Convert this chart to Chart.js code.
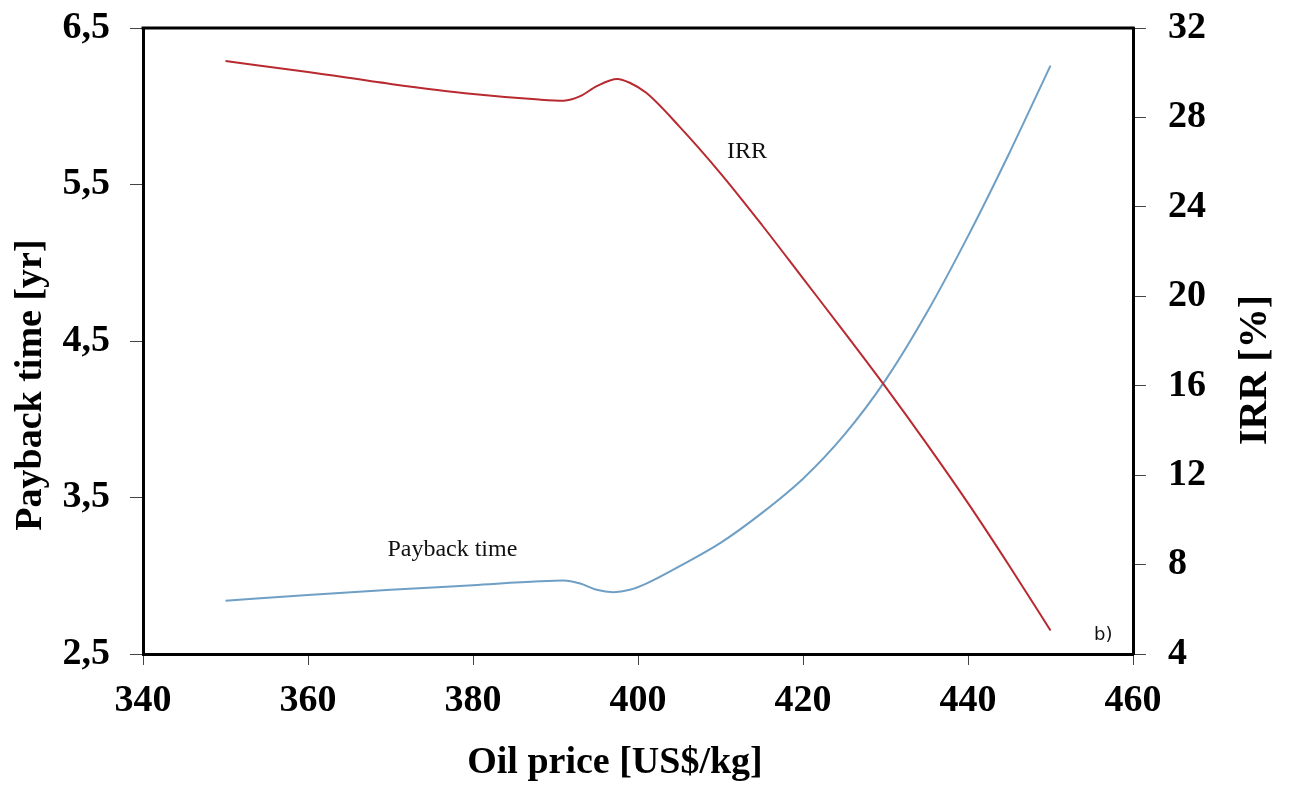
<!DOCTYPE html>
<html>
<head>
<meta charset="utf-8">
<script src="https://cdn.jsdelivr.net/npm/chart.js@4.4.1/dist/chart.umd.min.js"></script>
<style>
  html, body { margin: 0; padding: 0; background: #ffffff; }
  canvas { display: block; }
</style>
</head>
<body>
<canvas id="c" width="1290" height="791"></canvas>
<script>
// ---- Data ----
const paybackPrice = [350, 360, 370, 380, 388, 391, 393, 395, 397, 399, 401, 405, 410, 415, 420, 425, 430, 435, 440, 445, 450];
const paybackYears = [2.84, 2.877, 2.91, 2.94, 2.965, 2.97, 2.95, 2.91, 2.895, 2.91, 2.95, 3.06, 3.21, 3.40, 3.62, 3.90, 4.25, 4.68, 5.17, 5.70, 6.26];

const irrPrice = [350, 360, 370, 380, 388, 391, 393, 395, 397.5, 399, 401, 405, 410, 415, 420, 425, 430, 435, 440, 445, 450];
const irrPercent = [30.52, 30.03, 29.5, 29.05, 28.8, 28.75, 28.95, 29.4, 29.72, 29.55, 29.1, 27.6, 25.5, 23.2, 20.8, 18.4, 15.95, 13.4, 10.75, 7.95, 5.05];

const xTicks = [340, 360, 380, 400, 420, 440, 460];
const leftTicks = [2.5, 3.5, 4.5, 5.5, 6.5];
const rightTicks = [4, 8, 12, 16, 20, 24, 28, 32];

const xTitle = 'Oil price [US$/kg]';
const leftTitle = 'Payback time [yr]';
const rightTitle = 'IRR [%]';
const irrLabel = 'IRR';
const paybackLabel = 'Payback time';
const panelLabel = 'b)';

// ---- Build ----
const toPts = (xs, ys) => xs.map((x, i) => ({ x: x, y: ys[i] }));
const SERIF = "'Liberation Serif', 'Times New Roman', serif";
const tickFont = { family: SERIF, size: 38, weight: 'bold' };

const bgPlugin = {
  id: 'bg',
  beforeDraw(chart) {
    const ctx = chart.ctx;
    ctx.save();
    ctx.fillStyle = '#ffffff';
    ctx.fillRect(0, 0, chart.width, chart.height);
    ctx.restore();
  }
};

const decorPlugin = {
  id: 'decor',
  afterDraw(chart) {
    const ctx = chart.ctx;
    const a = chart.chartArea;
    const sx = chart.scales.x, sy = chart.scales.y, sy1 = chart.scales.y1;
    ctx.save();
    // top frame line
    ctx.strokeStyle = '#000';
    ctx.lineWidth = 3;
    ctx.beginPath();
    ctx.moveTo(a.left - 1.5, a.top);
    ctx.lineTo(a.right + 1.5, a.top);
    ctx.stroke();

    // axis titles
    ctx.fillStyle = '#000';
    ctx.font = 'bold 38px ' + SERIF;
    ctx.textAlign = 'center';
    ctx.textBaseline = 'middle';
    ctx.fillText(xTitle, (a.left + a.right) / 2 - 23, 763);

    ctx.save();
    ctx.translate(31, 385);
    ctx.rotate(-Math.PI / 2);
    ctx.fillText(leftTitle, 0, 0);
    ctx.restore();

    ctx.font = 'bold 40px ' + SERIF;
    ctx.save();
    ctx.translate(1256, 370);
    ctx.rotate(-Math.PI / 2);
    ctx.fillText(rightTitle, 0, 0);
    ctx.restore();

    // in-plot labels (anchored in data coordinates)
    ctx.font = '24px ' + SERIF;
    ctx.fillStyle = '#111';
    ctx.fillText(irrLabel, sx.getPixelForValue(413.2), sy1.getPixelForValue(26.45));
    ctx.fillText(paybackLabel, sx.getPixelForValue(377.5), sy.getPixelForValue(3.165));
    ctx.font = "18px 'DejaVu Sans', sans-serif";
    ctx.fillText(panelLabel, sx.getPixelForValue(456.4), sy.getPixelForValue(2.62));
    ctx.restore();
  }
};

const noOverflowY = (w) => (scale) => { scale.width = w; scale.paddingTop = 0; scale.paddingBottom = 0; };

new Chart(document.getElementById('c'), {
  type: 'line',
  data: {
    datasets: [
      {
        label: 'IRR',
        data: toPts(irrPrice, irrPercent),
        yAxisID: 'y1',
        borderColor: '#b82a30',
        borderWidth: 2,
        pointRadius: 0,
        fill: false,
        cubicInterpolationMode: 'monotone'
      },
      {
        label: 'Payback time',
        data: toPts(paybackPrice, paybackYears),
        yAxisID: 'y',
        borderColor: '#6f9fc4',
        borderWidth: 2,
        pointRadius: 0,
        fill: false,
        cubicInterpolationMode: 'monotone'
      }
    ]
  },
  options: {
    responsive: false,
    animation: false,
    devicePixelRatio: 1,
    layout: { padding: { top: 28, right: 0, bottom: 0, left: 0 } },
    plugins: { legend: { display: false }, tooltip: { enabled: false } },
    scales: {
      x: {
        type: 'linear',
        position: 'bottom',
        min: xTicks[0],
        max: xTicks[xTicks.length - 1],
        afterBuildTicks(scale) { scale.ticks = xTicks.map(v => ({ value: v })); },
        afterFit(scale) { scale.height = 137; scale.paddingLeft = 0; scale.paddingRight = 0; },
        ticks: { font: tickFont, color: '#000', padding: 13, maxRotation: 0, autoSkip: false },
        grid: { display: true, drawOnChartArea: false, drawTicks: true, tickLength: 11, color: '#444', lineWidth: 1 },
        border: { display: true, color: '#000', width: 3 }
      },
      y: {
        type: 'linear',
        position: 'left',
        min: leftTicks[0],
        max: leftTicks[leftTicks.length - 1],
        afterBuildTicks(scale) { scale.ticks = leftTicks.map(v => ({ value: v })); },
        afterFit: noOverflowY(143),
        ticks: {
          font: tickFont, color: '#000', padding: 20,
          callback: v => v.toFixed(1).replace('.', ',')
        },
        grid: { display: true, drawOnChartArea: false, drawTicks: true, tickLength: 13, color: '#444', lineWidth: 1 },
        border: { display: true, color: '#000', width: 3 }
      },
      y1: {
        type: 'linear',
        position: 'right',
        min: rightTicks[0],
        max: rightTicks[rightTicks.length - 1],
        afterBuildTicks(scale) { scale.ticks = rightTicks.map(v => ({ value: v })); },
        afterFit: noOverflowY(157),
        ticks: { font: tickFont, color: '#000', padding: 22 },
        grid: { display: true, drawOnChartArea: false, drawTicks: true, tickLength: 13, color: '#444', lineWidth: 1 },
        border: { display: true, color: '#000', width: 3 }
      }
    }
  },
  plugins: [bgPlugin, decorPlugin]
});
</script>
</body>
</html>
